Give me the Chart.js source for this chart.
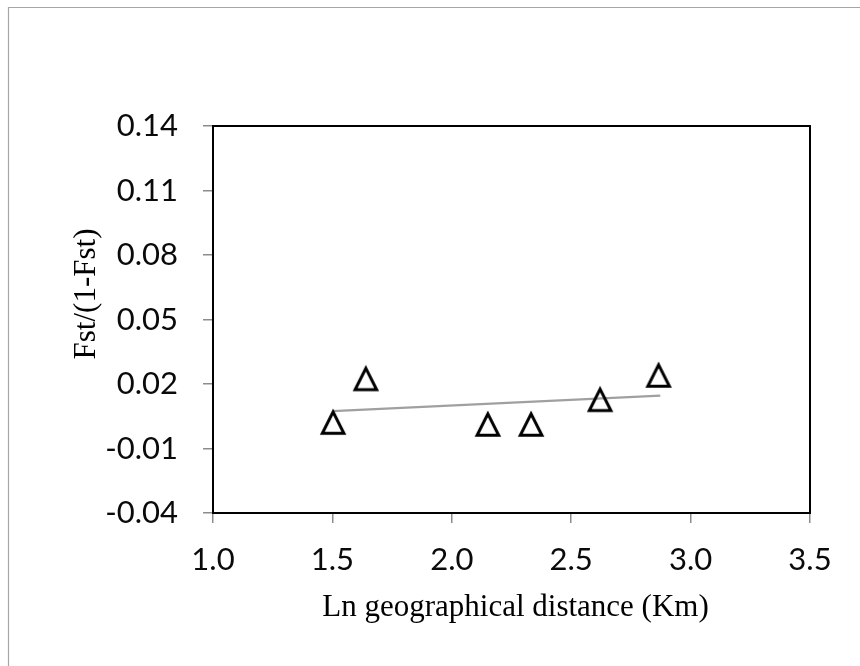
<!DOCTYPE html>
<html>
<head>
<meta charset="utf-8">
<script src="https://cdn.jsdelivr.net/npm/chart.js@4/dist/chart.umd.min.js"></script>
<style>
  html, body { margin: 0; padding: 0; background: #ffffff; }
  #wrap { position: relative; width: 860px; height: 666px; overflow: hidden; }
  canvas { display: block; }
</style>
</head>
<body>
<div id="wrap"><canvas id="c" width="860" height="666"></canvas></div>
<script>
// ---- data ----
const distLn = [1.503, 1.640, 2.151, 2.332, 2.621, 2.866];
const fstRatio = [0.0023, 0.0226, 0.0014, 0.0014, 0.0129, 0.0242];
const trendX = [1.502, 2.873];
const trendY = [0.0074, 0.0146];
const xTickValues = [1.0, 1.5, 2.0, 2.5, 3.0, 3.5];
const yTickValues = [-0.04, -0.01, 0.02, 0.05, 0.08, 0.11, 0.14];
const xTitle = 'Ln geographical distance (Km)';
const yTitle = 'Fst/(1-Fst)';

// hollow triangle marker (Excel style, centred on its bounding box)
function triangleMarker() {
  const cv = document.createElement('canvas');
  cv.width = 30; cv.height = 30;
  const g = cv.getContext('2d');
  g.strokeStyle = '#000000';
  g.lineWidth = 3;
  g.lineJoin = 'miter';
  g.beginPath();
  g.moveTo(15, 4.8);
  g.lineTo(25.8, 26.3);
  g.lineTo(4.2, 26.3);
  g.closePath();
  g.stroke();
  return cv;
}

const pts = distLn.map((x, i) => ({ x: x, y: fstRatio[i] }));
const trend = trendX.map((x, i) => ({ x: x, y: trendY[i] }));

const framePlugin = {
  id: 'frame',
  beforeDraw(chart) {
    const ctx = chart.ctx;
    ctx.save();
    ctx.fillStyle = '#ffffff';
    ctx.fillRect(0, 0, chart.width, chart.height);
    ctx.strokeStyle = '#a6a6a6';
    ctx.lineWidth = 1.2;
    ctx.beginPath();
    ctx.moveTo(8.5, chart.height + 2);
    ctx.lineTo(8.5, 7.5);
    ctx.lineTo(chart.width + 2, 7.5);
    ctx.stroke();
    ctx.restore();
  },
  afterDraw(chart) {
    const a = chart.chartArea;
    const ctx = chart.ctx;
    ctx.save();
    ctx.strokeStyle = '#000000';
    ctx.lineWidth = 2;
    ctx.strokeRect(a.left, a.top, a.right - a.left, a.bottom - a.top);
    // axis titles
    ctx.fillStyle = '#000000';
    ctx.font = '31px "Liberation Serif", "Times New Roman", serif';
    ctx.textAlign = 'center';
    ctx.textBaseline = 'alphabetic';
    ctx.fillText(xTitle, (a.left + a.right) / 2 + 4, 616);
    ctx.translate(95, 294);
    ctx.rotate(-Math.PI / 2);
    ctx.fillText(yTitle, 0, 0);
    ctx.restore();
  }
};

new Chart(document.getElementById('c'), {
  type: 'scatter',
  data: {
    datasets: [
      {
        label: 'Fst/(1-Fst)',
        data: pts,
        pointStyle: triangleMarker(),
        pointRadius: 12,
        pointHoverRadius: 12,
        showLine: false
      },
      {
        label: 'trend',
        data: trend,
        showLine: true,
        borderColor: '#a0a0a0',
        borderWidth: 2.2,
        pointRadius: 0,
        pointHoverRadius: 0,
        fill: false
      }
    ]
  },
  options: {
    responsive: false,
    animation: false,
    events: [],
    layout: { padding: { left: 0, top: 126, right: 50, bottom: 0 } },
    plugins: { legend: { display: false }, tooltip: { enabled: false } },
    scales: {
      x: {
        type: 'linear',
        min: 1.0, max: 3.5,
        afterFit(s) { s.height = 153; },
        afterBuildTicks(s) { s.ticks = xTickValues.map(v => ({ value: v })); },
        grid: { drawOnChartArea: false, drawTicks: true, tickLength: 10, color: '#8c8c8c', lineWidth: 1.5 },
        border: { display: true, color: '#000000', width: 2 },
        ticks: {
          padding: 18,
          color: '#0a0a0a',
          font: { family: 'Lato', size: 31 },
          maxRotation: 0,
          callback: v => Number(v).toFixed(1)
        }
      },
      y: {
        type: 'linear',
        min: -0.04, max: 0.14,
        afterFit(s) { s.width = 213; },
        afterBuildTicks(s) { s.ticks = yTickValues.map(v => ({ value: v })); },
        grid: { drawOnChartArea: false, drawTicks: true, tickLength: 10, color: '#8c8c8c', lineWidth: 1.5 },
        border: { display: true, color: '#000000', width: 2 },
        ticks: {
          padding: 25,
          color: '#0a0a0a',
          font: { family: 'Lato', size: 31 },
          callback: v => Number(v).toFixed(2)
        }
      }
    }
  },
  plugins: [framePlugin]
});
</script>
</body>
</html>
